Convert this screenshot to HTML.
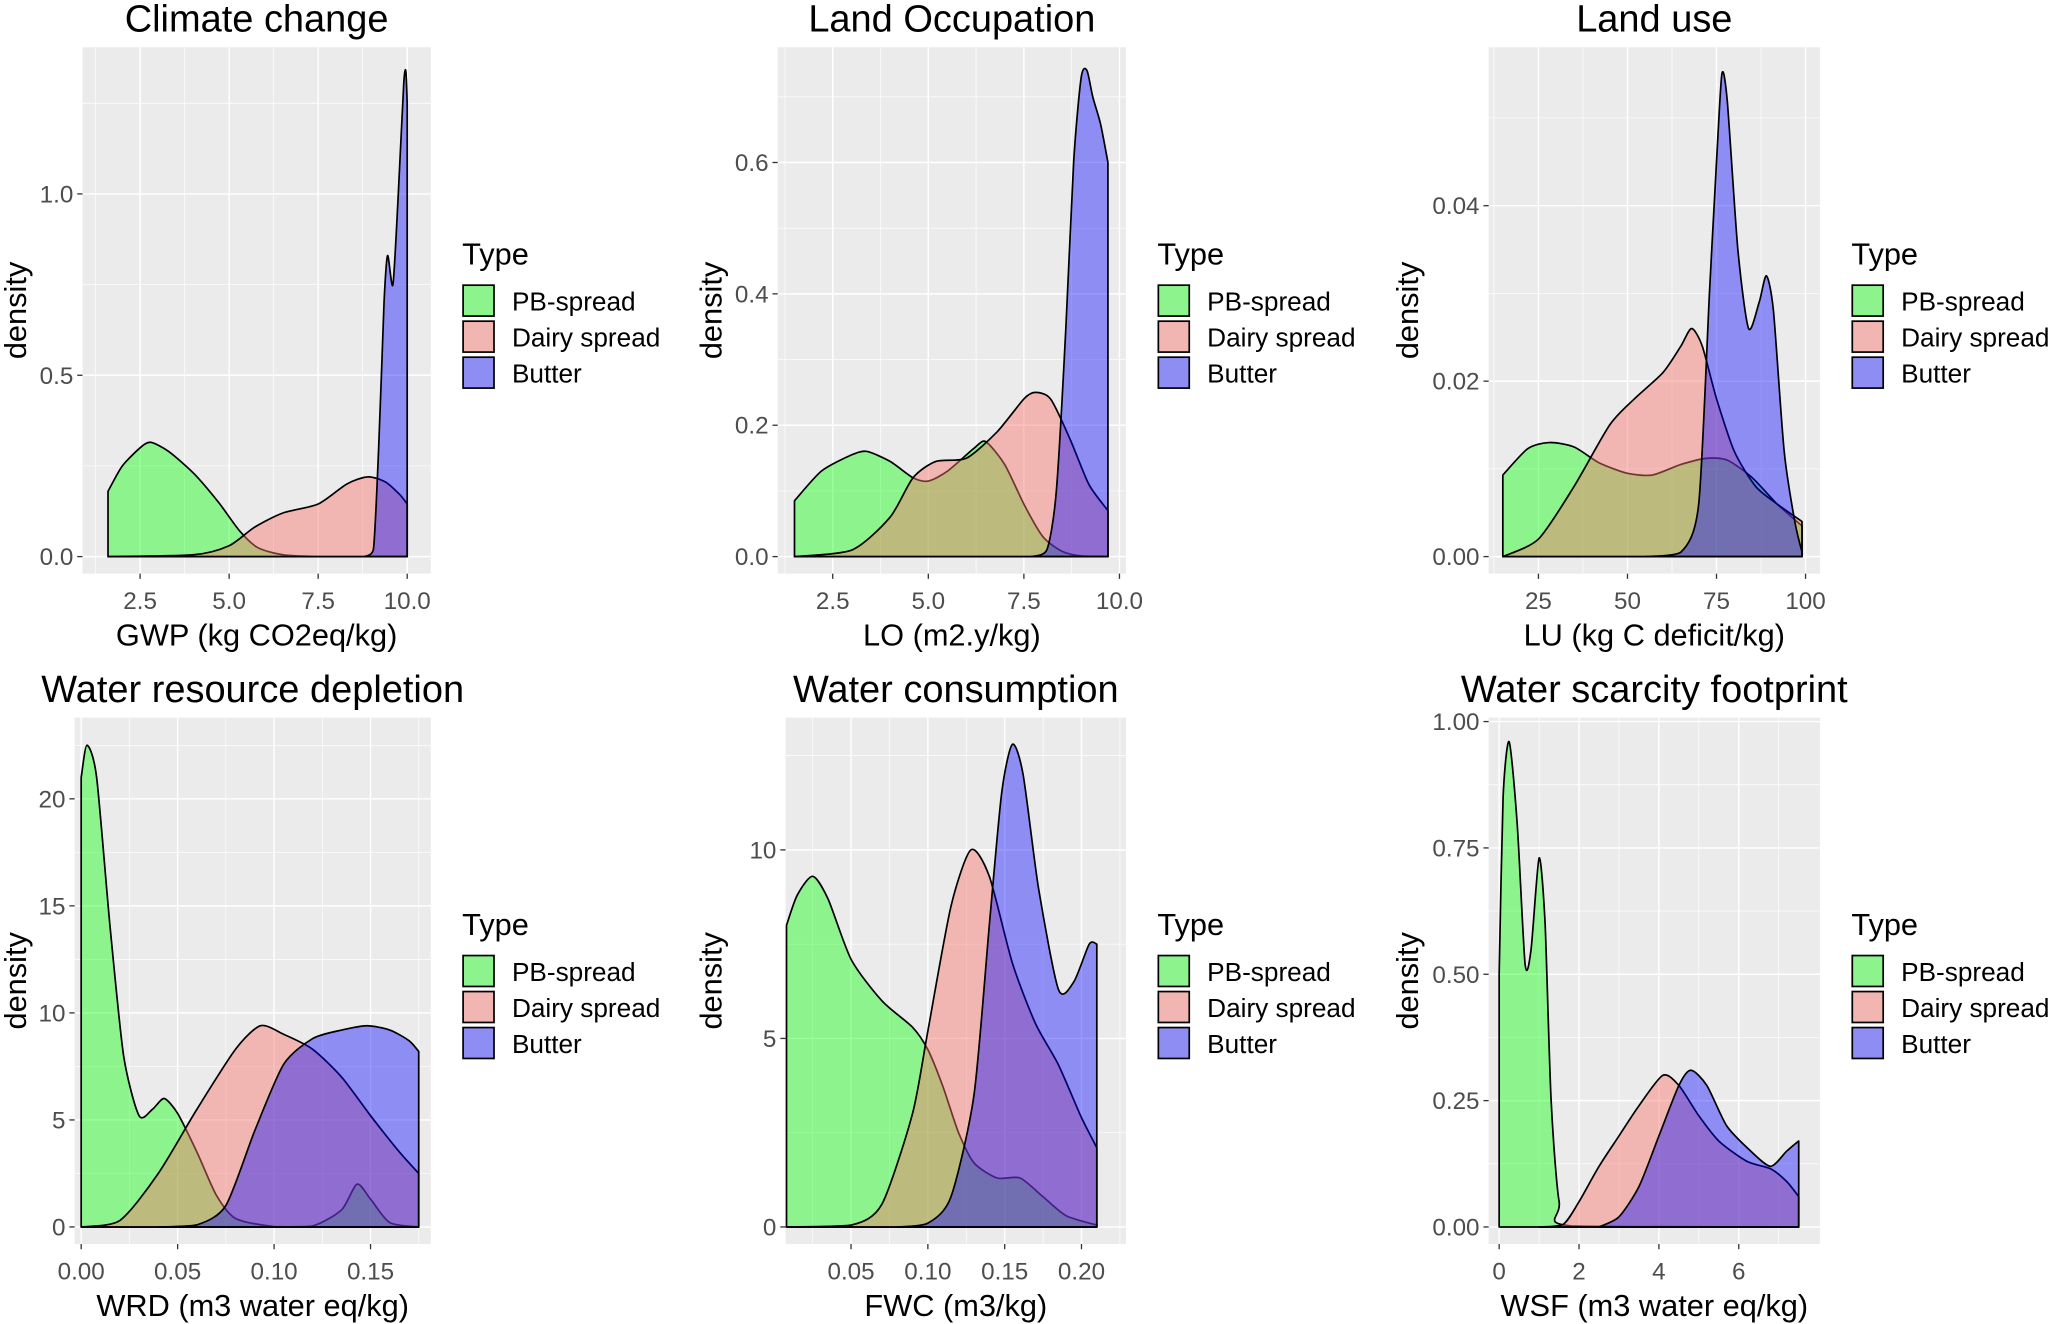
<!DOCTYPE html>
<html><head><meta charset="utf-8"><style>
html,body{margin:0;padding:0;background:#fff;}
svg{display:block;font-family:"Liberation Sans",Arial,sans-serif;}
</style></head><body>
<svg id="chart" width="2053" height="1324" viewBox="0 0 1568 1011" xmlns="http://www.w3.org/2000/svg"></svg>
<script>
// ---- data (x, density) per panel / series ----
const typeNames = ["PB-spread","Dairy spread","Butter"];
const gwpPB = [[1.6,0.18],[2.0,0.25],[2.5,0.30],[2.8,0.315],[3.3,0.29],[4,0.23],[4.7,0.15],[5.3,0.07],[5.8,0.025],[6.5,0.005],[7.5,0],[10,0]];
const gwpDairy = [[1.6,0],[4,0.005],[5,0.03],[5.7,0.08],[6.5,0.12],[7.5,0.145],[8.3,0.2],[8.9,0.22],[9.4,0.205],[9.8,0.17],[10.0,0.145]];
const gwpButter = [[8.8,0],[9.05,0.02],[9.2,0.3],[9.35,0.7],[9.45,0.83],[9.6,0.75],[9.75,1.0],[9.9,1.3],[9.96,1.34],[10.0,1.25]];
const loPB = [[1.5,0.085],[2.2,0.13],[3,0.155],[3.4,0.16],[4,0.145],[4.6,0.12],[5,0.115],[5.5,0.13],[6.2,0.165],[6.5,0.175],[7,0.14],[7.5,0.08],[8,0.03],[8.5,0.008],[9,0.001],[9.7,0]];
const loDairy = [[1.5,0],[3,0.01],[4,0.06],[4.6,0.12],[5.2,0.145],[6,0.15],[6.8,0.19],[7.5,0.24],[7.8,0.25],[8.2,0.24],[8.7,0.18],[9.2,0.11],[9.7,0.07]];
const loButter = [[7.7,0],[8.1,0.01],[8.35,0.1],[8.6,0.35],[8.8,0.6],[9.0,0.73],[9.15,0.74],[9.3,0.7],[9.5,0.66],[9.7,0.6]];
const luPB = [[15,0.0093],[22,0.0123],[28,0.013],[35,0.0125],[42,0.0107],[50,0.0095],[57,0.0093],[65,0.0105],[72,0.0112],[78,0.011],[85,0.009],[92,0.006],[99,0.0035]];
const luDairy = [[15,0],[25,0.002],[35,0.008],[45,0.015],[52,0.018],[60,0.021],[65,0.024],[68,0.026],[71,0.024],[75,0.018],[80,0.012],[86,0.008],[92,0.006],[99,0.004]];
const luButter = [[55,0],[65,0.0005],[70,0.006],[73,0.03],[75,0.045],[76.5,0.055],[78,0.052],[81,0.035],[84,0.026],[87,0.029],[89,0.032],[91,0.028],[94,0.012],[97,0.004],[99,0.0005]];
const wrdPB = [[0,21],[0.003,22.5],[0.008,21],[0.015,14],[0.022,8],[0.03,5.2],[0.037,5.5],[0.043,6],[0.05,5.3],[0.06,3.5],[0.07,1.5],[0.08,0.4],[0.1,0.02],[0.12,0.05],[0.135,0.8],[0.143,2],[0.15,1.3],[0.16,0.2],[0.175,0]];
const wrdDairy = [[0,0],[0.02,0.3],[0.04,2.5],[0.06,5.5],[0.08,8.3],[0.093,9.4],[0.105,9],[0.12,8.3],[0.135,7],[0.15,5.2],[0.165,3.5],[0.175,2.5]];
const wrdButter = [[0.04,0],[0.06,0.1],[0.075,1],[0.09,4.5],[0.105,7.6],[0.12,8.8],[0.135,9.2],[0.148,9.4],[0.16,9.2],[0.17,8.7],[0.175,8.2]];
const fwcPB = [[0.008,8],[0.015,8.8],[0.025,9.3],[0.035,8.7],[0.05,7.1],[0.07,6],[0.09,5.3],[0.1,4.7],[0.11,3.7],[0.12,2.5],[0.13,1.7],[0.145,1.3],[0.16,1.3],[0.175,0.8],[0.19,0.3],[0.21,0.05]];
const fwcDairy = [[0.008,0],[0.05,0.05],[0.07,0.6],[0.09,3],[0.1,5.2],[0.115,8.5],[0.128,10],[0.14,9.3],[0.155,7],[0.17,5.4],[0.185,4.3],[0.2,2.9],[0.21,2.1]];
const fwcButter = [[0.08,0],[0.1,0.1],[0.115,0.8],[0.13,3.5],[0.14,8],[0.148,11.5],[0.155,12.8],[0.162,12],[0.172,9],[0.185,6.3],[0.195,6.5],[0.205,7.5],[0.21,7.5]];
const wsfPB = [[0,0.5],[0.1,0.85],[0.25,0.96],[0.45,0.8],[0.65,0.52],[0.8,0.55],[1.0,0.73],[1.15,0.6],[1.3,0.25],[1.5,0.05],[1.8,0.002],[7.5,0]];
const wsfDairy = [[1,0],[1.6,0.005],[2,0.05],[2.5,0.12],[3,0.18],[3.5,0.24],[4.1,0.3],[4.5,0.28],[5,0.22],[5.5,0.17],[6.2,0.13],[6.8,0.115],[7.2,0.09],[7.5,0.06]];
const wsfButter = [[2.5,0],[3,0.02],[3.5,0.08],[4,0.18],[4.5,0.28],[4.8,0.31],[5.2,0.28],[5.7,0.2],[6.3,0.15],[6.8,0.12],[7.2,0.15],[7.5,0.17]];
// tick labels
const gwpXTicks = [2.5,5.0,7.5,10.0], gwpYTicks = [0,0.5,1.0];
const loXTicks = [2.5,5.0,7.5,10.0], loYTicks = [0,0.2,0.4,0.6];
const luXTicks = [25,50,75,100], luYTicks = [0,0.02,0.04];
const wrdXTicks = [0,0.05,0.10,0.15], wrdYTicks = [0,5,10,15,20];
const fwcXTicks = [0.05,0.10,0.15,0.20], fwcYTicks = [0,5,10];
const wsfXTicks = [0,2,4,6], wsfYTicks = [0,0.25,0.5,0.75,1.0];

const fills = ["rgba(0,255,0,0.4)","rgba(248,118,109,0.45)","rgba(0,0,255,0.4)"];
const NS="http://www.w3.org/2000/svg";
const svg=document.getElementById('chart');
function mk(tag,attrs,parent){const e=document.createElementNS(NS,tag);for(const k in attrs)e.setAttribute(k,attrs[k]);(parent||svg).appendChild(e);return e;}

const panels=[
 {key:'climate',title:'Climate change',xt:'GWP (kg CO2eq/kg)',L:63,R:329,T:36,B:438,yx:12,xa:[2.5,107,10,311],ya:[0,425,1.0,148],xTicks:gwpXTicks,yTicks:gwpYTicks,xd:1,yd:1,s:[gwpPB,gwpDairy,gwpButter],lx:353,ly:193},
 {key:'land-occupation',title:'Land Occupation',xt:'LO (m2.y/kg)',L:594,R:860,T:36,B:438,yx:543,xa:[2.5,636,10,855],ya:[0,425,0.6,124],xTicks:loXTicks,yTicks:loYTicks,xd:1,yd:1,s:[loPB,loDairy,loButter],lx:884,ly:193},
 {key:'land-use',title:'Land use',xt:'LU (kg C deficit/kg)',L:1137,R:1390,T:36,B:438,yx:1075,xa:[25,1175,100,1379],ya:[0,425,0.04,157],xTicks:luXTicks,yTicks:luYTicks,xd:0,yd:2,s:[luPB,luDairy,luButter],lx:1414,ly:193},
 {key:'water-resource',title:'Water resource depletion',xt:'WRD (m3 water eq/kg)',L:57,R:329,T:548,B:950,yx:12,xa:[0,62,0.15,283],ya:[0,937,20,610],xTicks:wrdXTicks,yTicks:wrdYTicks,xd:2,yd:0,s:[wrdPB,wrdDairy,wrdButter],lx:353,ly:705},
 {key:'water-consumption',title:'Water consumption',xt:'FWC (m3/kg)',L:600,R:860,T:548,B:950,yx:543,xa:[0.05,650,0.2,826],ya:[0,937,10,649],xTicks:fwcXTicks,yTicks:fwcYTicks,xd:2,yd:0,s:[fwcPB,fwcDairy,fwcButter],lx:884,ly:705},
 {key:'water-scarcity',title:'Water scarcity footprint',xt:'WSF (m3 water eq/kg)',L:1137,R:1390,T:548,B:950,yx:1075,xa:[0,1145,6,1328],ya:[0,937,1.0,551],xTicks:wsfXTicks,yTicks:wsfYTicks,xd:0,yd:2,s:[wsfPB,wsfDairy,wsfButter],lx:1414,ly:705}
];

function smooth(P,base){
 let d='M'+P[0][0].toFixed(1)+','+P[0][1].toFixed(1);
 for(let i=0;i<P.length-1;i++){
  const p0=P[Math.max(0,i-1)],p1=P[i],p2=P[i+1],p3=P[Math.min(P.length-1,i+2)];
  const k=8;
  const c1=[p1[0]+(p2[0]-p0[0])/k, Math.min(base,p1[1]+(p2[1]-p0[1])/k)];
  const c2=[p2[0]-(p3[0]-p1[0])/k, Math.min(base,p2[1]-(p3[1]-p1[1])/k)];
  d+=' C'+c1[0].toFixed(1)+','+c1[1].toFixed(1)+' '+c2[0].toFixed(1)+','+c2[1].toFixed(1)+' '+p2[0].toFixed(1)+','+p2[1].toFixed(1);
 }
 return d;
}

panels.forEach(p=>{
 const g=mk('g',{});
 
 
 const sx=v=>p.xa[1]+(v-p.xa[0])*(p.xa[3]-p.xa[1])/(p.xa[2]-p.xa[0]);
 const sy=v=>p.ya[1]+(v-p.ya[0])*(p.ya[3]-p.ya[1])/(p.ya[2]-p.ya[0]);
 const bg=mk('rect',{x:p.L,y:p.T,width:p.R-p.L,height:p.B-p.T,fill:'#EBEBEB'},g);
 
 
 const xs=p.xTicks, ys=p.yTicks;
 const dx=xs[1]-xs[0], dy=ys[1]-ys[0];
 for(let v=xs[0]-dx/2; v<=xs[xs.length-1]+dx; v+=dx){const X=sx(v); if(X>p.L&&X<p.R) mk('line',{x1:X,x2:X,y1:p.T,y2:p.B,stroke:'#fff','stroke-width':0.5},g);}
 for(let v=ys[0]-dy/2; v<=ys[ys.length-1]+dy; v+=dy){const Y=sy(v); if(Y>p.T&&Y<p.B) mk('line',{x1:p.L,x2:p.R,y1:Y,y2:Y,stroke:'#fff','stroke-width':0.5},g);}
 xs.forEach(v=>{const X=sx(v);
   mk('line',{x1:X,x2:X,y1:p.T,y2:p.B,stroke:'#fff','stroke-width':1.1},g);
   mk('line',{x1:X,x2:X,y1:p.B,y2:p.B+4,stroke:'#333','stroke-width':1},g);
   const t=mk('text',{x:X,y:p.B+27,'text-anchor':'middle','font-size':18.5,fill:'#4D4D4D'},g);
   t.textContent=v.toFixed(p.xd);
   
   });
 ys.forEach(v=>{const Y=sy(v);
   mk('line',{x1:p.L,x2:p.R,y1:Y,y2:Y,stroke:'#fff','stroke-width':1.1},g);
   mk('line',{x1:p.L-4,x2:p.L,y1:Y,y2:Y,stroke:'#333','stroke-width':1},g);
   const t=mk('text',{x:p.L-7,y:Y+6.5,'text-anchor':'end','font-size':18.5,fill:'#4D4D4D'},g);
   t.textContent=v.toFixed(p.yd);
   
   });
 const base=sy(0);
 p.s.forEach((pts,i)=>{
   const P=pts.map(q=>[sx(q[0]),sy(q[1])]);
   let d='M'+P[0][0].toFixed(1)+','+base+' L'+smooth(P,base).slice(1)+' L'+P[P.length-1][0].toFixed(1)+','+base+' Z';
   const a=mk('path',{d:d,fill:fills[i],stroke:'#000','stroke-width':1.3,'stroke-linejoin':'round'},g);
   
   
 });
 const ti=mk('text',{x:(p.L+p.R)/2,y:p.T-12,'text-anchor':'middle','font-size':29,fill:'#000'},g);
 ti.textContent=p.title;
 
 
 const xt=mk('text',{x:(p.L+p.R)/2,y:p.B+55,'text-anchor':'middle','font-size':23.5,fill:'#000'},g);
 xt.textContent=p.xt;
 
 
 const ycx=p.yx+8, ycy=(p.T+p.B)/2;
 const yt=mk('text',{x:ycx,y:ycy,'text-anchor':'middle','font-size':23.5,fill:'#000',transform:'rotate(-90 '+ycx+' '+ycy+')'},g);
 yt.textContent='density';
 
 
 const lg=mk('g',{},g);
 
 
 const lt=mk('text',{x:p.lx,y:p.ly+9,'font-size':23.5,fill:'#000'},lg);
 lt.textContent='Type';
 
 
 typeNames.forEach((n,i)=>{
   const y=p.ly+24+i*27.5;
   mk('rect',{x:p.lx,y:y,width:25,height:25,fill:'#EBEBEB'},lg);
   const r=mk('rect',{x:p.lx+0.7,y:y+0.7,width:23.6,height:23.6,fill:fills[i],stroke:'#000','stroke-width':1.3},lg);
   
   
   const t=mk('text',{x:p.lx+38,y:y+20,'font-size':20,fill:'#000'},lg);
   t.textContent=n;
   
   
 });
});
</script>
</body></html>
